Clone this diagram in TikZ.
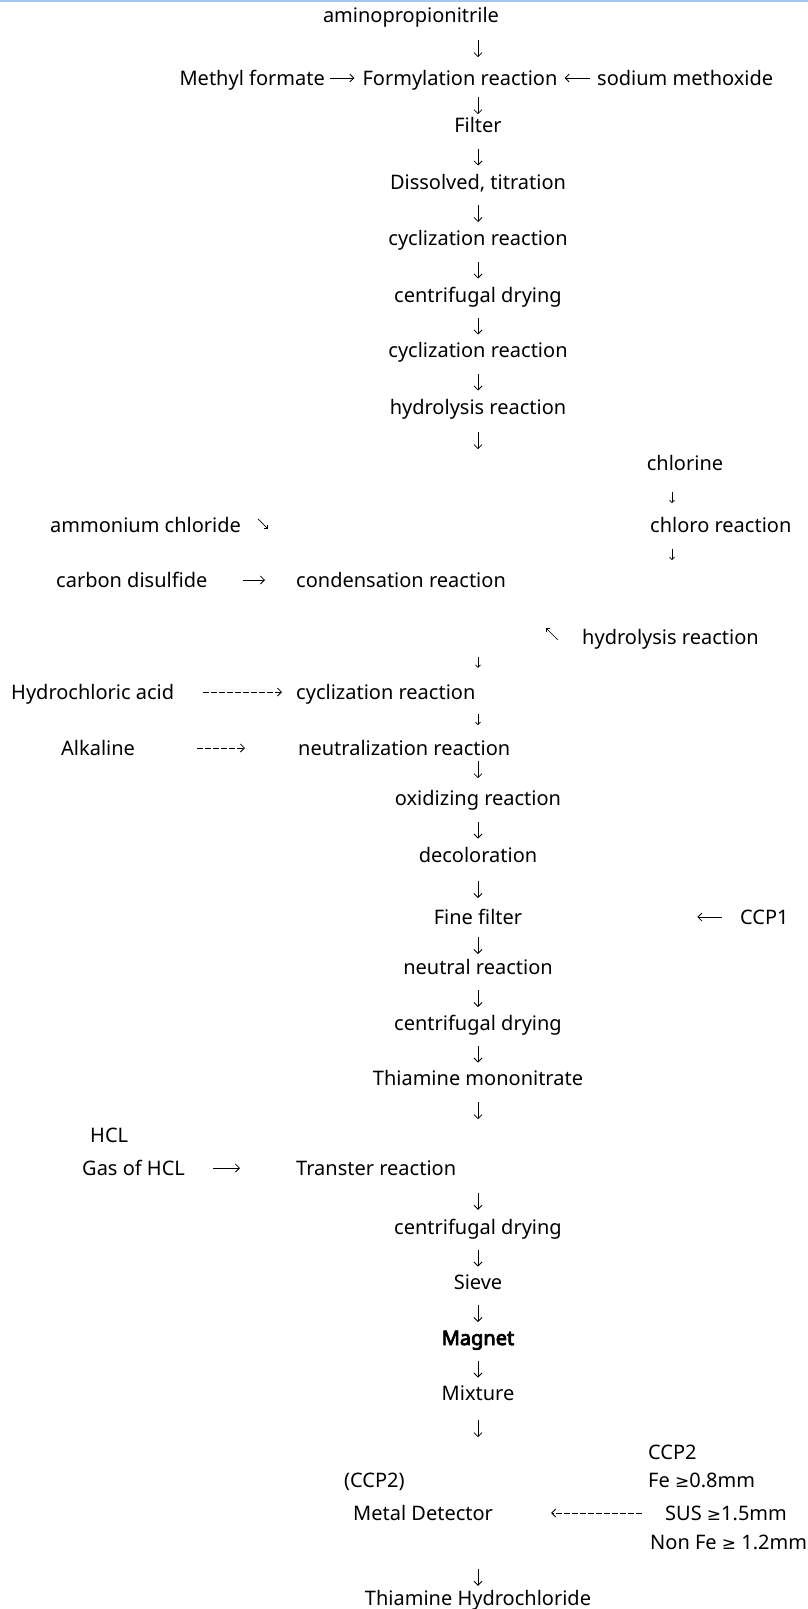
\documentclass[tikz,border=0pt]{standalone}
\usepackage{fontspec}
\setmainfont{Noto Sans}
\newfontfamily\geqfont{DejaVu Sans}
\newfontfamily\heavyfont{Noto Sans}[FakeBold=4]
\usetikzlibrary{arrows.meta,calc}
\definecolor{topline}{RGB}{160,200,245}
\newcommand{\godown}[2]{\draw[flow] ($(#1)!.5!(#2)$) ++(0,-5) -- ++(0,17);}
\newcommand{\geqsign}{{\geqfont\fontsize{17}{20}\selectfont ≥}}

\begin{document}
\begin{tikzpicture}[x=1pt,y=-1pt,
  every node/.style={font=\fontsize{20}{24}\selectfont,inner sep=0pt,text height=14pt,text depth=0pt},
  flow/.style={line width=0.8pt,-{Straight Barb[length=4pt,width=8pt]}},
  tiny/.style={line width=0.7pt,-{Straight Barb[length=2.5pt,width=5pt]}},
  dashflow/.style={line width=0.8pt,-{Straight Barb[length=4pt,width=8pt]},dash pattern=on 6pt off 2pt}]
\useasboundingbox (0,0) rectangle (808,1609);
\fill[topline] (0,0) rectangle (808,1.5);
\coordinate (spine) at (478,0);
\coordinate (side) at (672,0);

\node (amino) at (411,15) {aminopropionitrile};
\node[anchor=east] (methyl) at (325,78) {Methyl formate};
\node (formyl) at (460,78) {Formylation reaction};
\node[anchor=west] (sodium) at (597,78) {sodium methoxide};
\node (filter) at (478,125) {Filter};
\node (dissolved) at (478,182) {Dissolved, titration};
\node (cyc1) at (478,238) {cyclization reaction};
\node (cent1) at (478,295) {centrifugal drying};
\node (cyc2) at (478,350) {cyclization reaction};
\node (hydro1) at (478,407) {hydrolysis reaction};
\draw[flow] (amino.south -| spine) ++(0,18) -- ++(0,17);
\draw[flow,shorten <=5pt,shorten >=8pt] (methyl) -- (formyl);
\draw[flow,shorten <=7pt,shorten >=7pt] (sodium) -- (formyl);
\draw[flow] (formyl.south -| spine) ++(0,12) -- ++(0,17);
\godown{filter}{dissolved}
\godown{dissolved}{cyc1}
\godown{cyc1}{cent1}
\godown{cent1}{cyc2}
\godown{cyc2}{hydro1}
\draw[flow] (hydro1.south) ++(0,18) -- ++(0,17);

\node (chlorine) at (685,463) {chlorine};
\node[anchor=west] (chloro) at (650,525) {chloro reaction};
\node[anchor=west] (ammonium) at (50,525) {ammonium chloride};
\node[anchor=west] (carbon) at (56,580) {carbon disulfide};
\node[anchor=west] (condensation) at (296,580) {condensation reaction};
\node[anchor=west] (hydro2) at (582,637) {hydrolysis reaction};
\draw[tiny] (chlorine.south -| side) ++(0,22) -- ++(0,11);
\draw[tiny] (chloro.south -| side) ++(0,17) -- ++(0,11);
\draw[tiny] (ammonium.east) ++(17,-6) -- ++(10,10);
\draw[flow,shorten <=35pt,shorten >=31pt] (carbon) -- (condensation);
\draw[tiny] (hydro2.west) ++(-24,3) -- ++(-12,-12);

\node[anchor=west] (hydrochloric) at (11,692) {Hydrochloric acid};
\node[anchor=west] (cyc3) at (296,692) {cyclization reaction};
\node[anchor=west] (alkaline) at (61,748) {Alkaline};
\node[anchor=west] (neutralization) at (298,748) {neutralization reaction};
\draw[tiny] (cyc3.north -| spine) ++(0,-28) -- ++(0,11);
\draw[tiny] (cyc3.south -| spine) ++(0,15) -- ++(0,11);
\draw[dashflow,shorten <=29pt,shorten >=14pt] (hydrochloric) -- (cyc3);
\draw[dashflow,shorten <=62pt,shorten >=53pt] (alkaline) -- (neutralization);

\node (oxidizing) at (478,798) {oxidizing reaction};
\node (decoloration) at (478,855) {decoloration};
\node (fine) at (478,917) {Fine filter};
\node[anchor=west] (ccp1) at (740,917) {CCP1};
\node (neutral) at (478,967) {neutral reaction};
\node (cent2) at (478,1023) {centrifugal drying};
\node (mono) at (478,1078) {Thiamine mononitrate};
\draw[flow] (neutralization.south -| spine) ++(0,6) -- ++(0,17);
\godown{oxidizing}{decoloration}
\godown{decoloration}{fine}
\godown{fine}{neutral}
\godown{neutral}{cent2}
\godown{cent2}{mono}
\draw[flow,shorten <=18pt,shorten >=175pt] (ccp1) -- (fine);
\draw[flow] (mono.south) ++(0,17) -- ++(0,17);

\node[anchor=west] (hcl) at (90,1135) {HCL};
\node[anchor=west] (gas) at (82,1168) {Gas of HCL};
\node[anchor=west] (transfer) at (296,1168) {Transter reaction};
\node (cent3) at (478,1227) {centrifugal drying};
\node (sieve) at (478,1282) {Sieve};
\node[font=\fontsize{20}{24}\heavyfont] (magnet) at (478,1338) {Magnet};
\node (mixture) at (478,1393) {Mixture};
\draw[flow,shorten <=28pt,shorten >=56pt] (gas) -- (transfer);
\draw[flow] (cent3.north) ++(0,-27) -- ++(0,17);
\godown{cent3}{sieve}
\godown{sieve}{magnet}
\godown{magnet}{mixture}
\draw[flow] (mixture.south) ++(0,20) -- ++(0,17);

\node[anchor=west] (ccp2) at (648,1452) {CCP2};
\node[anchor=west] (ccp2b) at (344,1480) {(CCP2)};
\node[anchor=west] (fe) at (648,1480) {Fe \geqsign0.8mm};
\node[anchor=west] (metal) at (353,1513) {Metal Detector};
\node[anchor=west] (sus) at (665,1513) {SUS \geqsign1.5mm};
\node[anchor=west] (nonfe) at (650,1542) {Non Fe \geqsign{} 1.2mm};
\node (hydrochloride) at (478,1598) {Thiamine Hydrochloride};
\draw[dashflow,shorten <=23pt,shorten >=58pt] (sus) -- (metal);
\draw[flow] (hydrochloride.north) ++(0,-22) -- ++(0,17);
\end{tikzpicture}
\end{document}
